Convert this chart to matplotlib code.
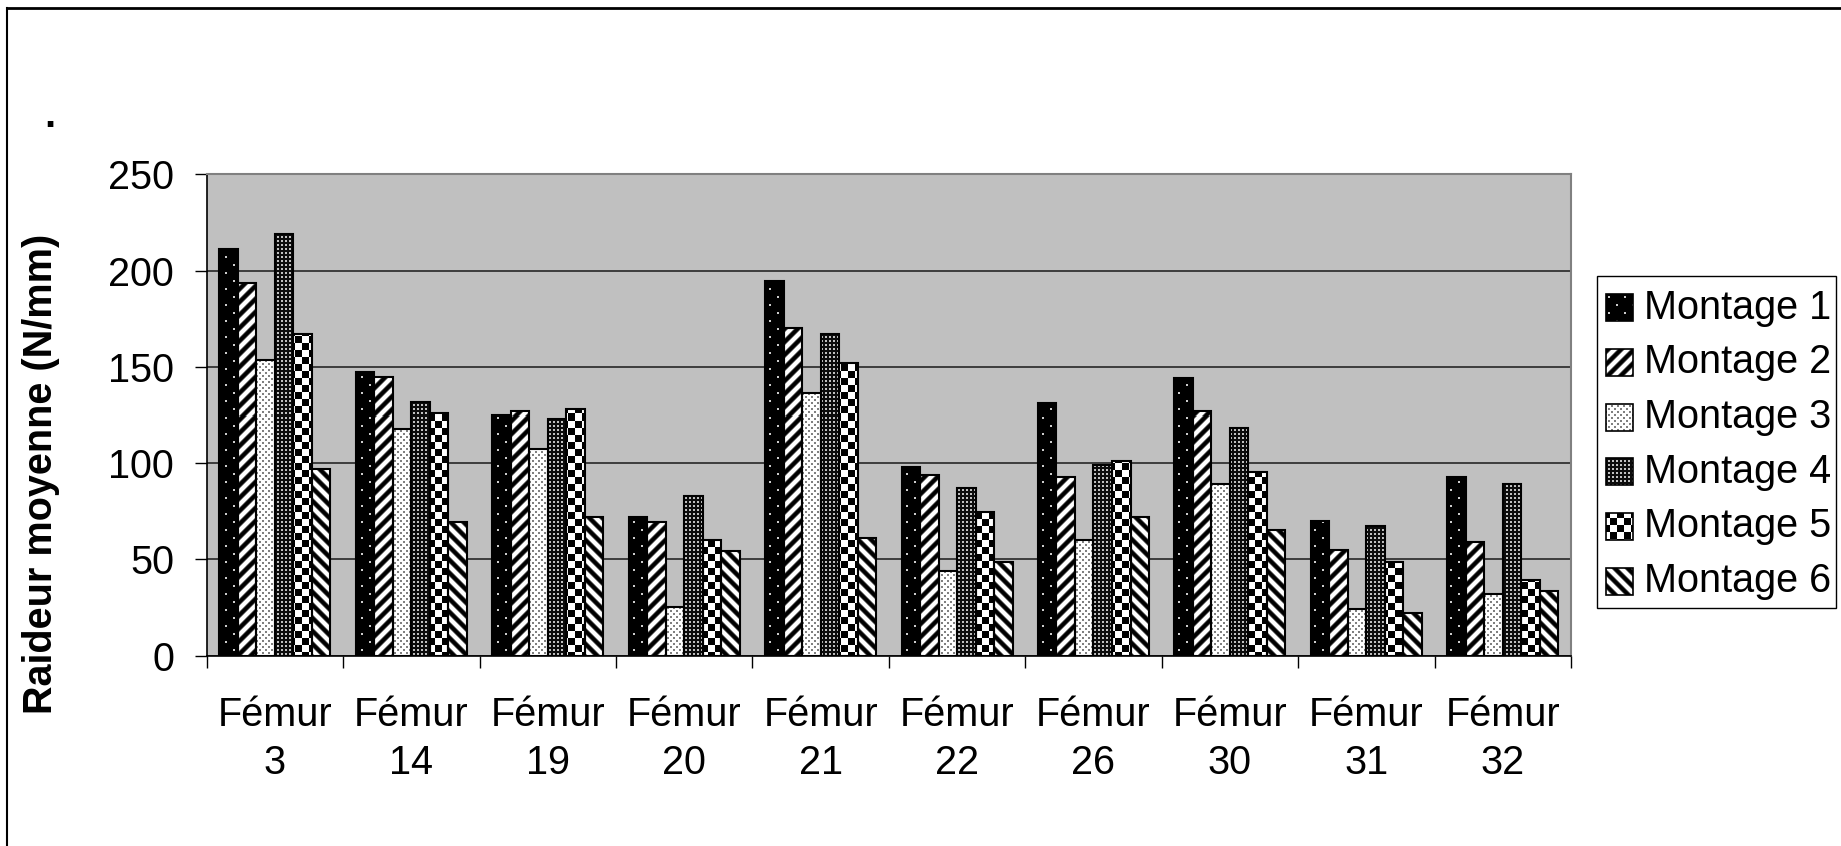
import numpy as np
import matplotlib
matplotlib.use("Agg")
import matplotlib.pyplot as plt
from matplotlib.patches import Rectangle
from matplotlib.path import Path
from matplotlib.lines import Line2D

# ---------------- data ----------------
categories = ["Fémur\n3", "Fémur\n14", "Fémur\n19", "Fémur\n20", "Fémur\n21",
              "Fémur\n22", "Fémur\n26", "Fémur\n30", "Fémur\n31", "Fémur\n32"]
series_names = ["Montage 1", "Montage 2", "Montage 3", "Montage 4", "Montage 5", "Montage 6"]
montage1 = [211, 147.5, 125, 72, 194.5, 98, 131, 144, 70, 93]
montage2 = [193.5, 145, 127, 69.5, 170, 94, 93, 127, 55, 59]
montage3 = [153.5, 118, 107.5, 25.5, 136.5, 44, 60, 89, 24, 32]
montage4 = [219, 132, 123, 83, 167, 87, 99, 118.5, 67.5, 89]
montage5 = [167, 126, 128, 60, 152, 74.5, 101, 95.5, 48.5, 39.5]
montage6 = [97, 69.5, 72, 54.5, 61, 48.5, 72, 65.5, 22, 33.5]
y_ticks = [0, 50, 100, 150, 200, 250]
y_label = "Raideur moyenne (N/mm)"

series = [montage1, montage2, montage3, montage4, montage5, montage6]

# ---------------- style ----------------
W, H = 1841, 846
DPI = 100
FONT = "Liberation Sans"
FS = 28.5
plt.rcParams["font.family"] = [FONT, "DejaVu Sans"]


def texture(k, X, Y):
    """Gray-level fill pattern for series k at global pixel coords X, Y (y from top)."""
    X, Y = np.broadcast_arrays(X, Y)
    X = X.astype(int)
    Y = Y.astype(int)
    if k == 0:  # black with sparse light dots
        g = np.zeros(X.shape)
        dots = (((X % 16) < 2) & ((Y % 16) < 2)) | ((((X + 8) % 16) < 2) & (((Y + 8) % 16) < 2))
        g[dots] = 0.8
    elif k in (1, 5):  # diagonal stripes
        P = 13
        s = (X + Y) if k == 1 else (X - Y)
        d = s % P
        t = np.abs(d - P / 2) / (P / 2)
        g = np.clip((t - 0.5) * 3 + 0.5, 0, 1)
    elif k == 2:  # white with small gray dots
        g = np.ones(X.shape)
        dots = (((X % 6) < 2) & ((Y % 6) < 2)) | ((((X + 3) % 6) < 2) & (((Y + 3) % 6) < 2))
        g[dots] = 0.5
    elif k == 3:  # dark with dense light dots
        g = np.zeros(X.shape) + 0.05
        dots = ((X % 4) < 2) & ((Y % 4) < 2)
        g[dots] = 0.75
    else:  # checkerboard
        g = np.where(((X // 7) + (Y // 7)) % 2 == 0, 0.0, 1.0)
    return g


fig = plt.figure(figsize=(W / DPI, H / DPI), dpi=DPI)
fig.patch.set_facecolor("white")

ax_l, ax_r, ax_t, ax_b = 206.7, 1571.0, 174.4, 655.7
ax = fig.add_axes([ax_l / W, 1 - ax_b / H, (ax_r - ax_l) / W, (ax_b - ax_t) / H])
ax.set_facecolor("#C0C0C0")

n_cat = len(categories)
n_ser = len(series)
x = np.arange(n_cat)
bw = 0.1357
xlim = (-0.5, n_cat - 0.5)
ylim = (y_ticks[0], y_ticks[-1])

# pixel grid of the axes
bb = ax.bbox
wp = int(round(bb.x1 - bb.x0))
hp = int(round(bb.y1 - bb.y0))
Xg = (np.floor(bb.x0) + np.arange(wp))[None, :]
Yg = (np.floor(H - bb.y1) + np.arange(hp))[:, None]

for k, vals in enumerate(series):
    bars = ax.bar(x + (k - (n_ser - 1) / 2) * bw, vals, width=bw, facecolor="none",
                  edgecolor="black", linewidth=1.5, zorder=4)
    paths = [b.get_patch_transform().transform_path(b.get_path()) for b in bars]
    clip = Path.make_compound_path(*paths)
    tex = texture(k, Xg, Yg)
    im = ax.imshow(tex, extent=(xlim[0], xlim[1], ylim[0], ylim[1]), origin="upper",
                   aspect="auto", interpolation="nearest", cmap="gray", vmin=0, vmax=1,
                   zorder=3)
    im.set_clip_path(clip, ax.transData)

ax.set_xlim(*xlim)
ax.set_ylim(*ylim)
ax.set_axisbelow(True)
ax.yaxis.grid(True, color="#1a1a1a", linewidth=1.1, zorder=1)
ax.xaxis.grid(False)

for side in ("top", "right"):
    ax.spines[side].set_color("#808080")
    ax.spines[side].set_linewidth(1.5)
for side in ("left", "bottom"):
    ax.spines[side].set_color("black")
    ax.spines[side].set_linewidth(1.2)
for sp in ax.spines.values():
    sp.set_zorder(5)

ax.set_yticks(y_ticks)
ax.set_yticklabels([str(v) for v in y_ticks], fontsize=FS)
ax.tick_params(axis="y", direction="out", length=8.6, width=1.0, pad=15, colors="black")

ax.set_xticks(np.arange(n_cat + 1) - 0.5)
ax.set_xticklabels([])
ax.set_xticks(x, minor=True)
ax.set_xticklabels(categories, minor=True, fontsize=FS, linespacing=1.34)
ax.tick_params(axis="x", which="major", direction="out", length=8.6, width=1.0)
ax.tick_params(axis="x", which="minor", length=0, pad=29)

# overlay axes in pixel coords (y from top)
ov = fig.add_axes([0, 0, 1, 1], zorder=10)
ov.set_xlim(0, W)
ov.set_ylim(H, 0)
ov.axis("off")
ov.patch.set_alpha(0)

# outer frame (left and top edges visible)
ov.add_line(Line2D([7, 7], [8, H + 5], color="black", linewidth=1.5))
ov.add_line(Line2D([7, W + 5], [8, 8], color="black", linewidth=2.0))

# stray dot at top-left
ov.text(50, 127, ".", fontsize=FS, fontweight="bold", ha="center", va="baseline")

# y label
ov.text(41, 474, y_label, fontsize=28.5, fontweight="bold", rotation=90,
        ha="center", va="center")

# legend (manual)
leg_l, leg_t, leg_r, leg_b = 1597, 276, 1836, 608
ov.add_patch(Rectangle((leg_l, leg_t), leg_r - leg_l, leg_b - leg_t, facecolor="white",
                       edgecolor="black", linewidth=1.0, zorder=1))
row0, drow = 307.6, 54.7
ps = 27
for k, name in enumerate(series_names):
    cy = row0 + k * drow
    px0 = 1606
    py0 = int(round(cy - ps / 2))
    Xl = (px0 + np.arange(ps))[None, :]
    Yl = (py0 + np.arange(ps))[:, None]
    tex = texture(k, Xl, Yl)
    ov.imshow(tex, extent=(px0, px0 + ps, py0 + ps, py0), origin="upper", aspect="auto",
              interpolation="nearest", cmap="gray", vmin=0, vmax=1, zorder=2)
    ov.add_patch(Rectangle((px0, py0), ps, ps, facecolor="none", edgecolor="black",
                           linewidth=1.2, zorder=3))
    ov.text(1644, cy, name, fontsize=FS, ha="left", va="center", zorder=3)

ov.set_xlim(0, W)
ov.set_ylim(H, 0)

fig.savefig("out.png", dpi=DPI)
